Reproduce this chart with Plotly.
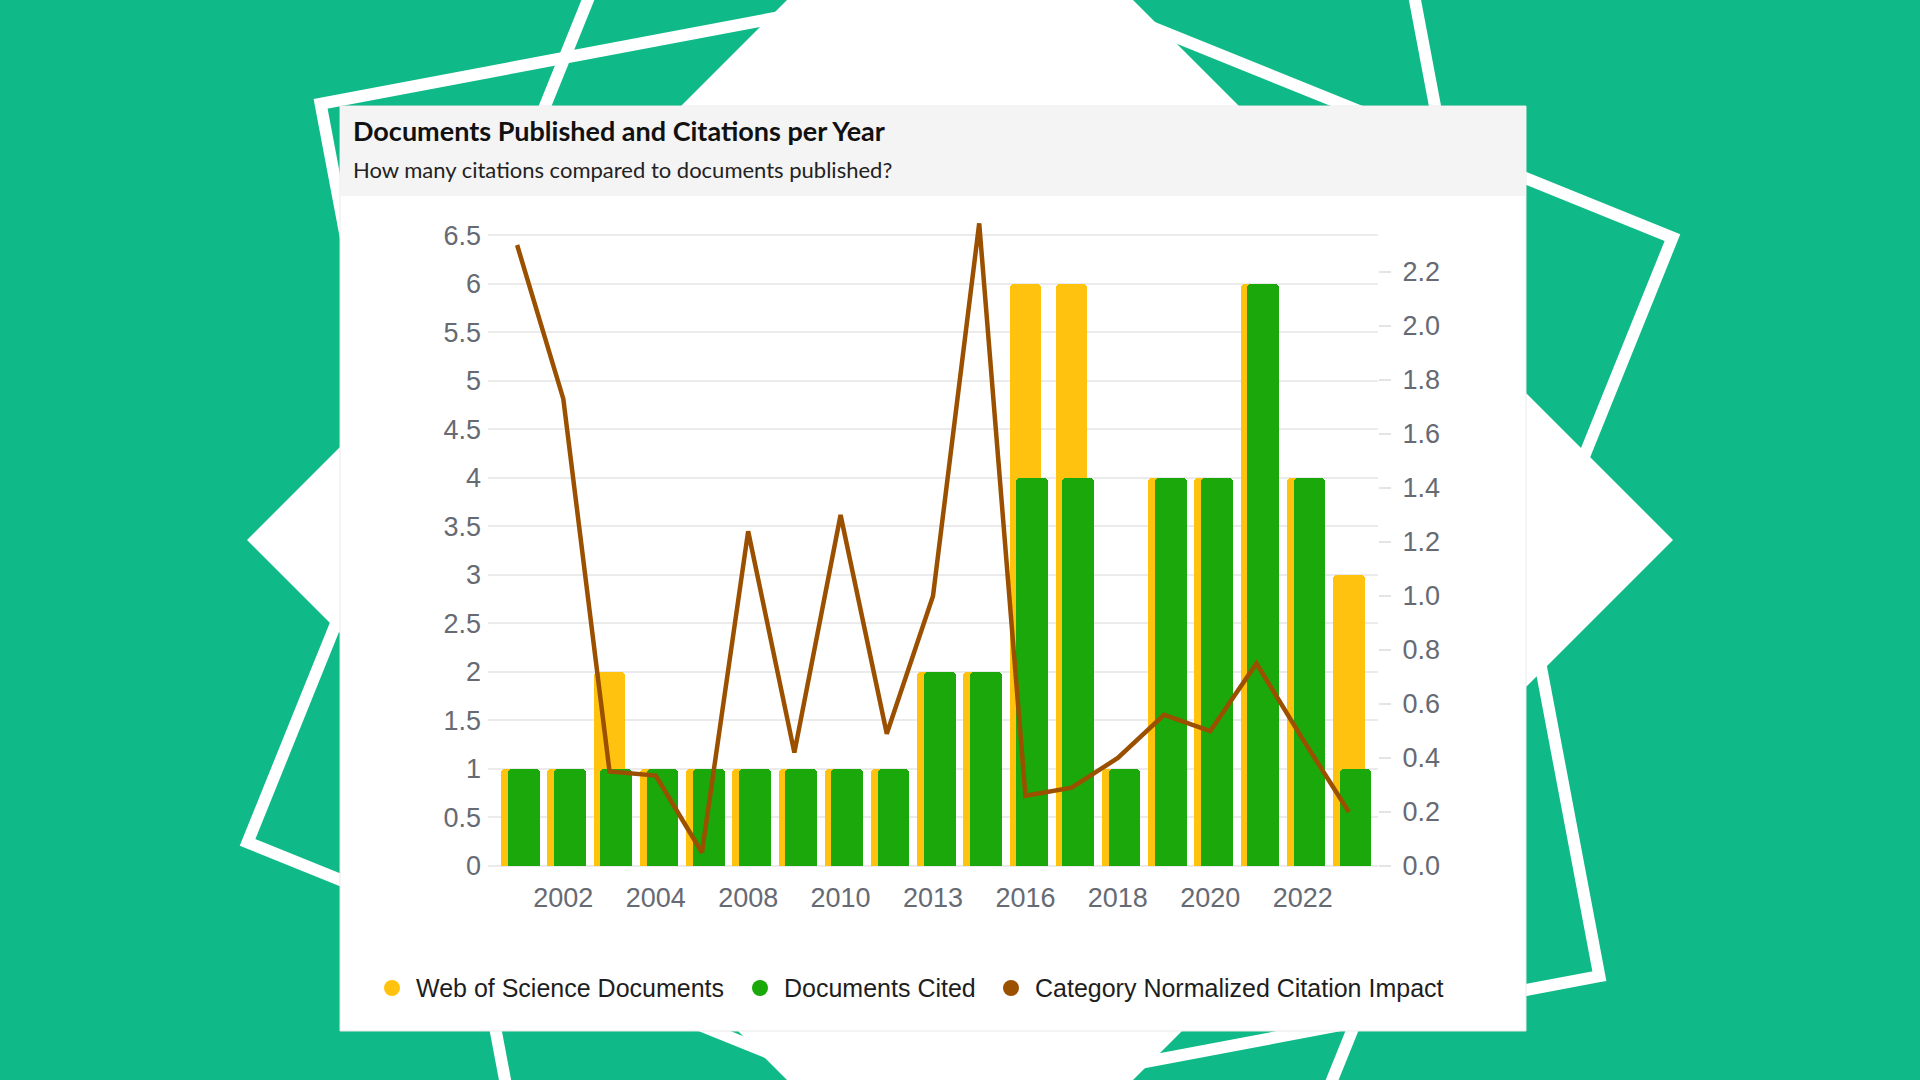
import math
import plotly.graph_objects as go

# ---------------- data ----------------
years = ["2001", "2002", "2003", "2004", "2007", "2008", "2009", "2010", "2012", "2013",
         "2015", "2016", "2017", "2018", "2019", "2020", "2021", "2022", "2023"]
label_years = ["2002", "2004", "2008", "2010", "2013", "2016", "2018", "2020", "2022"]
wos_documents = [1, 1, 2, 1, 1, 1, 1, 1, 1, 2, 2, 6, 6, 1, 4, 4, 6, 4, 3]
documents_cited = [1, 1, 1, 1, 1, 1, 1, 1, 1, 2, 2, 4, 4, 1, 4, 4, 6, 4, 1]
cnci = [2.30, 1.73, 0.35, 0.335, 0.05, 1.24, 0.42, 1.30, 0.49, 1.00,
        2.38, 0.26, 0.29, 0.40, 0.56, 0.50, 0.75, 0.47, 0.20]
right_ticks = [0.0, 0.2, 0.4, 0.6, 0.8, 1.0, 1.2, 1.4, 1.6, 1.8, 2.0, 2.2]

title_text = "Documents Published and Citations per Year"
subtitle_text = "How many citations compared to documents published?"
legend_names = ["Web of Science Documents", "Documents Cited", "Category Normalized Citation Impact"]

# ---------------- style ----------------
C_YELLOW = "#FFC20E"
C_GREEN = "#1AA80B"
C_BROWN = "#9B5000"
C_BG = "#0FBA88"
TICK_COLOR = "#666a73"
GRID = "#ebebeb"

W, H = 1920, 1080
L, R, T, B = 488, 542, 218, 214
PW, PH = W - L - R, H - T - B


def px(x):
    return (x - L) / PW


def py(y):
    return (H - B - y) / PH


def poly_path(pts):
    return "M " + " L ".join(f"{px(x):.5f},{py(y):.5f}" for x, y in pts) + " Z"


def rot_square(cx, cy, r, rot_deg):
    pts = []
    for k in range(4):
        a = math.radians(45 + 90 * k + rot_deg)
        pts.append((cx + r * math.cos(a), cy + r * math.sin(a)))
    return pts


fig = go.Figure()

bw = 0.686
fig.add_trace(go.Bar(x=years, y=wos_documents, name=legend_names[0], width=bw, offset=-bw / 2,
                     marker=dict(color=C_YELLOW, cornerradius=4, line=dict(width=0)),
                     showlegend=False))
fig.add_trace(go.Bar(x=years, y=documents_cited, name=legend_names[1], width=bw, offset=-bw / 2 + 0.145,
                     marker=dict(color=C_GREEN, cornerradius=4, line=dict(width=0)),
                     showlegend=False))
fig.add_trace(go.Scatter(x=years, y=cnci, name=legend_names[2], yaxis="y2", mode="lines",
                         line=dict(color=C_BROWN, width=4.5), showlegend=False))

shapes = []
# white star diamond
shapes.append(dict(type="path", xref="paper", yref="paper", layer="below",
                   path=poly_path(rot_square(960, 540, 713, 45)),
                   fillcolor="white", line=dict(width=0)))
# outlined rotated squares
for rot in (-10.7, 22.0):
    shapes.append(dict(type="path", xref="paper", yref="paper", layer="below",
                       path=poly_path(rot_square(960, 540, 774, rot)),
                       fillcolor="rgba(0,0,0,0)", line=dict(color="white", width=12)))
# card
shapes.append(dict(type="rect", xref="paper", yref="paper", layer="below",
                   x0=px(340), x1=px(1526), y0=py(1031), y1=py(106),
                   fillcolor="white", line=dict(color="#e9e9e9", width=1)))
shapes.append(dict(type="rect", xref="paper", yref="paper", layer="below",
                   x0=px(340.5), x1=px(1525.5), y0=py(196), y1=py(106.5),
                   fillcolor="#f4f4f4", line=dict(width=0)))

# legend dots
legend_dot_x = [392, 760, 1011]
legend_text_x = [414, 782, 1033]
legend_colors = [C_YELLOW, C_GREEN, C_BROWN]
LEG_Y = 988
rdot = 8
for cx, col in zip(legend_dot_x, legend_colors):
    shapes.append(dict(type="circle", xref="paper", yref="paper", layer="above",
                       x0=px(cx - rdot), x1=px(cx + rdot), y0=py(LEG_Y + rdot), y1=py(LEG_Y - rdot),
                       fillcolor=col, line=dict(width=0)))

annotations = []
annotations.append(dict(xref="paper", yref="paper", x=px(351), y=py(131), xanchor="left", yanchor="middle",
                        text=f"<b>{title_text}</b>", showarrow=False,
                        font=dict(family="Lato", size=27, color="#111111")))
annotations.append(dict(xref="paper", yref="paper", x=px(351), y=py(170), xanchor="left", yanchor="middle",
                        text=subtitle_text, showarrow=False,
                        font=dict(family="Lato", size=22, color="#222222")))
for tx, name in zip(legend_text_x, legend_names):
    annotations.append(dict(xref="paper", yref="paper", x=px(tx), y=py(LEG_Y), xanchor="left", yanchor="middle",
                            text=name, showarrow=False,
                            font=dict(family="Liberation Sans, Arial", size=25, color="#1e1e1e")))

tickfont = dict(family="Liberation Sans, Arial", size=27, color=TICK_COLOR)

fig.update_layout(
    width=W, height=H, autosize=False,
    margin=dict(l=L, r=R, t=T, b=B, pad=0),
    paper_bgcolor=C_BG, plot_bgcolor="rgba(0,0,0,0)",
    barmode="overlay", bargap=0,
    shapes=shapes, annotations=annotations,
    xaxis=dict(type="category", categoryorder="array", categoryarray=years,
               range=[-0.63, 18.63], tickmode="array", tickvals=label_years, ticktext=label_years,
               showgrid=False, zeroline=False, showline=False, ticks="",
               tickfont=tickfont, ticklabelstandoff=13, fixedrange=True),
    yaxis=dict(range=[0, PH / 97.03], tick0=0, dtick=0.5, showgrid=True, gridcolor=GRID, gridwidth=2,
               zeroline=True, zerolinecolor=GRID, zerolinewidth=2, showline=False, ticks="",
               tickfont=tickfont, ticklabelstandoff=6, fixedrange=True),
    yaxis2=dict(overlaying="y", side="right", range=[0, PH / 270.0], tickmode="array",
                tickvals=right_ticks, ticktext=[f"{v:.1f}" for v in right_ticks],
                showgrid=False, zeroline=False, showline=False, ticks="outside", ticklen=12, tickwidth=2,
                tickcolor="#e4e4e4", tickfont=tickfont, ticklabelstandoff=6, fixedrange=True),
    showlegend=False,
)

fig.write_html("out.html", config={"displayModeBar": False},
               post_script="document.body.style.margin='0px';document.body.style.overflow='hidden';")
